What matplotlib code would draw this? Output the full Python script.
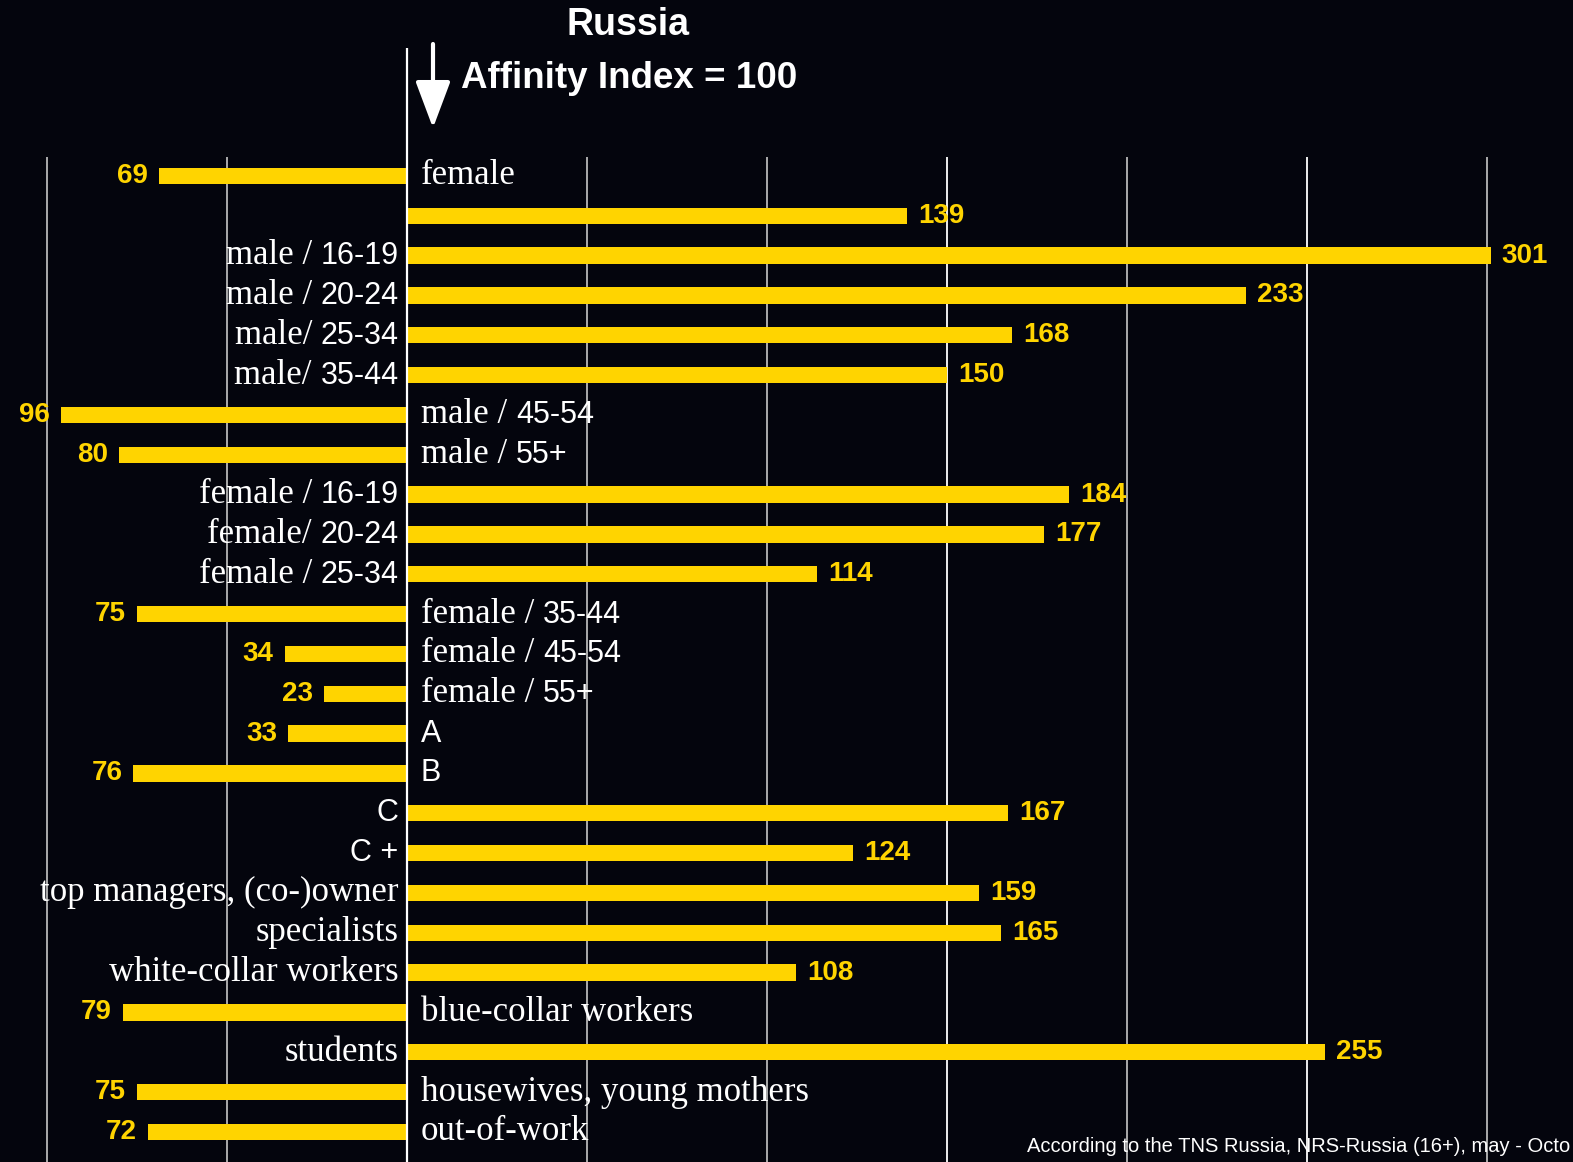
import matplotlib
matplotlib.use("Agg")
import matplotlib.pyplot as plt
from matplotlib.offsetbox import TextArea, HPacker, AnnotationBbox

# ==========================================
# DATA
# ==========================================
labels = ["female", "", "male / 16-19", "male / 20-24", "male/ 25-34", "male/ 35-44",
          "male / 45-54", "male / 55+", "female / 16-19", "female/ 20-24",
          "female / 25-34", "female / 35-44", "female / 45-54", "female / 55+",
          "A", "B", "C", "C +", "top managers, (co-)owner", "specialists",
          "white-collar workers", "blue-collar workers", "students",
          "housewives, young mothers", "out-of-work"]
values = [69, 139, 301, 233, 168, 150, 96, 80, 184, 177, 114, 75, 34, 23,
          33, 76, 167, 124, 159, 165, 108, 79, 255, 75, 72]
grid_values = [-100, -50, 50, 100, 150, 200, 250, 300]
bright_grid = [150, 250]

title_top = "Russia"
title_main = "Affinity Index = 100"
footnote = "According to the TNS Russia, NRS-Russia (16+), may - Octo"

BG = "#04050d"
YELLOW = "#ffd400"
SERIF = ["Liberation Serif", "DejaVu Serif"]
SANS = ["Liberation Sans", "DejaVu Sans"]

# ==========================================
# FIGURE
# ==========================================
W, H = 1573, 1162
fig = plt.figure(figsize=(W / 100, H / 100), dpi=100, facecolor=BG)
ax = fig.add_axes([0, 0, 1, 1], facecolor=BG)

px_per_unit = 3.6
x0 = 407
row0, row_h = 176, 39.83
ax.set_xlim(-x0 / px_per_unit, (W - x0) / px_per_unit)
ax.set_ylim((H - row0) / row_h, -row0 / row_h)
ax.axis("off")

def py(p):
    return (p - row0) / row_h

# gridlines
for g in grid_values:
    col = "white" if g in bright_grid else "#b8b8b8"
    ax.vlines(g, py(157), py(H), color=col, lw=1.3, zorder=1)
ax.vlines(0, py(48), py(H), color="white", lw=1.6, zorder=3)

# bars: below 100 go left, above 100 go right
for i, v in enumerate(values):
    side = -1 if v < 100 else 1
    ax.barh(i, side * v, height=0.41, color=YELLOW, zorder=2)
    ax.annotate(str(v), (side * v, i), xytext=(side * 8, 0),
                textcoords="offset points",
                ha="right" if side < 0 else "left", va="center",
                color=YELLOW, fontsize=20, fontweight="bold", family=SANS)

# category labels: words in serif, age groups and classes in sans
def label_box(text):
    if len(text) <= 3:
        parts = [(text, SANS)]
    else:
        idx = next((k for k, c in enumerate(text) if c.isdigit()), len(text))
        parts = [(text[:idx], SERIF), (text[idx:], SANS)]
    kids = []
    for t, fam in parts:
        if t:
            size = 25 if fam is SERIF else 22
            kids.append(TextArea(t, textprops=dict(color="white", fontsize=size,
                                                   family=fam)))
    return HPacker(children=kids, align="baseline", pad=0, sep=0)

for i, (lab, v) in enumerate(zip(labels, values)):
    if not lab:
        continue
    box = label_box(lab)
    if v < 100:
        ab = AnnotationBbox(box, (0, i), xybox=(10, 0), xycoords="data",
                            boxcoords="offset points", box_alignment=(0, 0.5),
                            frameon=False, pad=0)
    else:
        ab = AnnotationBbox(box, (0, i), xybox=(-6, 0), xycoords="data",
                            boxcoords="offset points", box_alignment=(1, 0.5),
                            frameon=False, pad=0)
    ax.add_artist(ab)

# title and arrow
fig.text(628 / W, 1 - 25 / H, title_top, ha="center", va="center",
         color="white", fontsize=27, fontweight="bold", family=SANS)
fig.text(461 / W, 1 - 78 / H, title_main, ha="left", va="center",
         color="white", fontsize=26.5, fontweight="bold", family=SANS)
ax.annotate("", xy=(433 / W, 1 - 128 / H), xytext=(433 / W, 1 - 44 / H),
            xycoords="figure fraction", textcoords="figure fraction",
            arrowprops=dict(arrowstyle="-|>,head_length=1.2,head_width=0.45",
                            color="white", lw=3, mutation_scale=24,
                            shrinkA=0, shrinkB=0))

fig.text(1570 / W, 1 - 1146 / H, footnote, ha="right", va="center",
         color="white", fontsize=14.5, family=SANS)

fig.savefig("out.png", dpi=100, facecolor=BG)
